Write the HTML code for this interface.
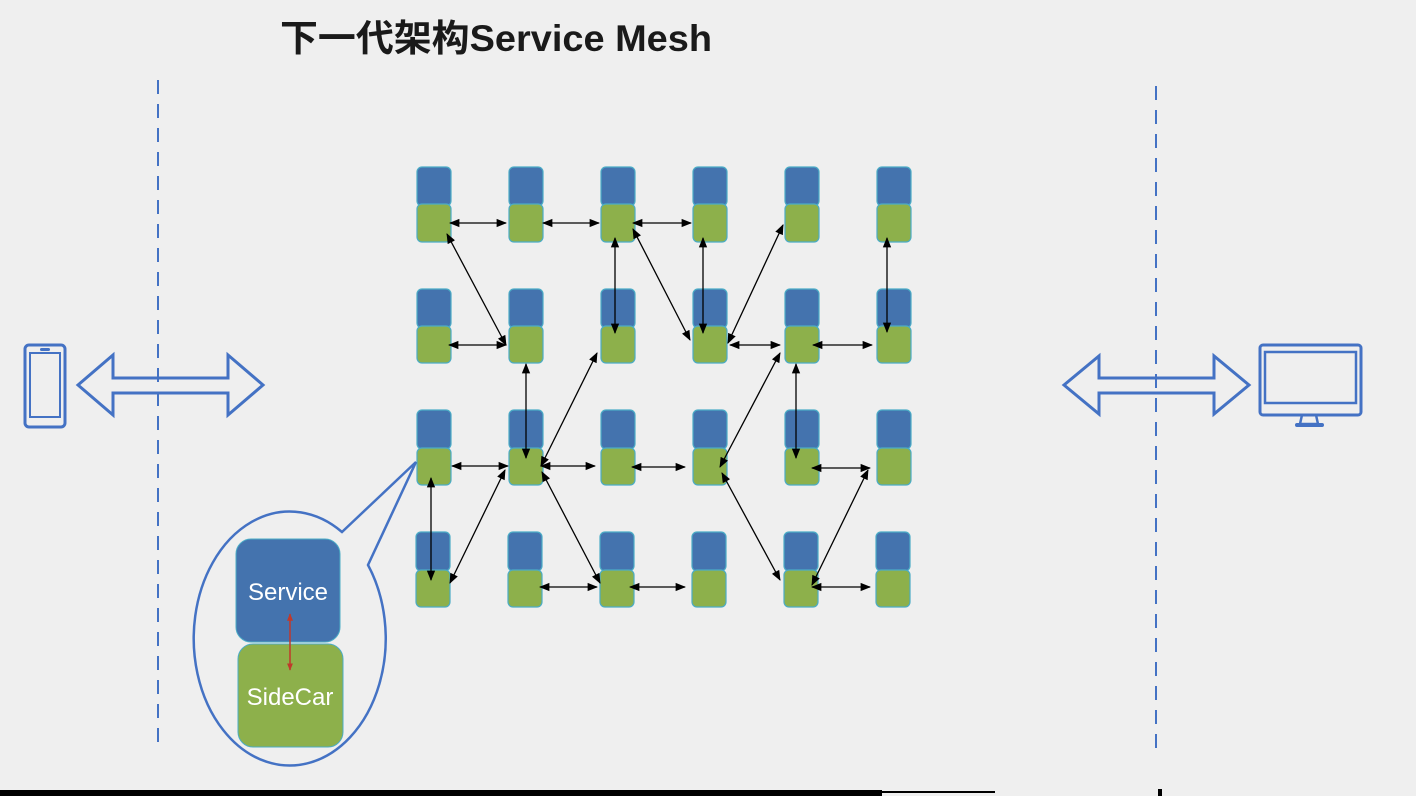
<!DOCTYPE html>
<html><head><meta charset="utf-8"><style>
html,body{margin:0;padding:0;background:#efefef;}
svg{display:block}
</style></head><body>
<svg width="1416" height="796" viewBox="0 0 1416 796" xmlns="http://www.w3.org/2000/svg">
<defs>
<marker id="a" viewBox="0 0 10 10" refX="9" refY="5" markerWidth="8" markerHeight="8" orient="auto-start-reverse"><path d="M0,1 L10,5 L0,9 z" fill="#000"/></marker>
<marker id="r" viewBox="0 0 10 10" refX="9" refY="5" markerWidth="5" markerHeight="5" orient="auto-start-reverse"><path d="M0,1 L10,5 L0,9 z" fill="#c0392b"/></marker>
</defs>
<rect width="1416" height="796" fill="#efefef"/>
<text x="280" y="51" font-family="'Liberation Sans','Noto Sans CJK SC',sans-serif" font-size="37" font-weight="bold" fill="#1a1a1a" textLength="432" lengthAdjust="spacingAndGlyphs">下一代架构Service Mesh</text>
<line x1="158" y1="80" x2="158" y2="750" stroke="#4472c4" stroke-width="2" stroke-dasharray="14,10"/>
<line x1="1156" y1="86" x2="1156" y2="750" stroke="#4472c4" stroke-width="2" stroke-dasharray="14,10"/>
<!-- phone -->
<rect x="25" y="345" width="40" height="82" rx="4" fill="none" stroke="#4472c4" stroke-width="3"/>
<rect x="30" y="353" width="30" height="64" fill="none" stroke="#4472c4" stroke-width="2"/>
<rect x="40" y="348" width="10" height="3" rx="1.5" fill="#4472c4"/>
<!-- arrows -->
<path d="M78,385 L113,355 L113,378 L228,378 L228,355 L263,385 L228,415 L228,393 L113,393 L113,415 Z" fill="none" stroke="#4472c4" stroke-width="3"/>
<path d="M1064,385 L1099,356 L1099,378 L1214,378 L1214,356 L1249,385 L1214,414 L1214,393 L1099,393 L1099,414 Z" fill="none" stroke="#4472c4" stroke-width="3"/>
<!-- monitor -->
<rect x="1260" y="345" width="101" height="70" rx="3" fill="none" stroke="#4472c4" stroke-width="3"/>
<rect x="1265" y="352" width="91" height="51" fill="none" stroke="#4472c4" stroke-width="2.5"/>
<path d="M1302,415 L1300,424 L1318,424 L1316,415" fill="none" stroke="#4472c4" stroke-width="2.5"/>
<rect x="1295" y="423" width="29" height="4" rx="2" fill="#4472c4"/>
<!-- nodes -->
<g stroke="#4bacc6" stroke-width="1.2">
<g id="col">
<rect x="417" y="167" width="34" height="39" rx="5" fill="#4473ae"/><rect x="417" y="204" width="34" height="38" rx="5" fill="#8db04b"/>
<rect x="417" y="289" width="34" height="39" rx="5" fill="#4473ae"/><rect x="417" y="326" width="34" height="37" rx="5" fill="#8db04b"/>
<rect x="417" y="410" width="34" height="39" rx="5" fill="#4473ae"/><rect x="417" y="448" width="34" height="37" rx="5" fill="#8db04b"/>
<rect x="416" y="532" width="34" height="39" rx="5" fill="#4473ae"/><rect x="416" y="570" width="34" height="37" rx="5" fill="#8db04b"/>
</g>
<use href="#col" x="92"/><use href="#col" x="184"/><use href="#col" x="276"/><use href="#col" x="368"/><use href="#col" x="460"/>
</g>
<!-- connectors -->
<g stroke="#000" stroke-width="1.3" marker-start="url(#a)" marker-end="url(#a)">
<line x1="450" y1="223" x2="506" y2="223"/><line x1="543" y1="223" x2="599" y2="223"/><line x1="633" y1="223" x2="691" y2="223"/>
<line x1="447" y1="234" x2="506" y2="345"/>
<line x1="615" y1="238" x2="615" y2="333"/>
<line x1="633" y1="229" x2="690" y2="340"/>
<line x1="703" y1="238" x2="703" y2="333"/>
<line x1="783" y1="225" x2="728" y2="343"/>
<line x1="887" y1="238" x2="887" y2="332"/>
<line x1="449" y1="345" x2="506" y2="345"/><line x1="730" y1="345" x2="780" y2="345"/><line x1="813" y1="345" x2="872" y2="345"/>
<line x1="526" y1="364" x2="526" y2="458"/>
<line x1="597" y1="353" x2="541" y2="466"/>
<line x1="780" y1="353" x2="720" y2="467"/>
<line x1="796" y1="364" x2="796" y2="458"/>
<line x1="452" y1="466" x2="508" y2="466"/><line x1="541" y1="466" x2="595" y2="466"/><line x1="632" y1="467" x2="685" y2="467"/><line x1="812" y1="468" x2="870" y2="468"/>
<line x1="431" y1="478" x2="431" y2="580"/>
<line x1="505" y1="470" x2="450" y2="583"/>
<line x1="542" y1="472" x2="600" y2="583"/>
<line x1="722" y1="473" x2="780" y2="580"/>
<line x1="868" y1="470" x2="812" y2="585"/>
<line x1="540" y1="587" x2="597" y2="587"/><line x1="630" y1="587" x2="685" y2="587"/><line x1="812" y1="587" x2="870" y2="587"/>
</g>
<!-- callout -->
<path d="M342,532 L416,462 L368,565 A96,127 0 1 1 342,532 Z" fill="#efefef" stroke="#4472c4" stroke-width="2.5" stroke-linejoin="miter"/>
<rect x="236" y="539" width="104" height="103" rx="15" fill="#4473ae" stroke="#4bacc6" stroke-width="1"/>
<rect x="238" y="644" width="105" height="103" rx="15" fill="#8db04b" stroke="#4bacc6" stroke-width="1"/>
<text x="288" y="600" text-anchor="middle" font-family="'Liberation Sans',sans-serif" font-size="24" fill="#fff">Service</text>
<text x="290" y="705" text-anchor="middle" font-family="'Liberation Sans',sans-serif" font-size="24" fill="#fff">SideCar</text>
<line x1="290" y1="614" x2="290" y2="670" stroke="#c0392b" stroke-width="1.5" marker-start="url(#r)" marker-end="url(#r)"/>
<!-- bottom bars -->
<rect x="0" y="790" width="882" height="6" fill="#000"/>
<rect x="882" y="791" width="113" height="2" fill="#000"/>
<rect x="1158" y="789" width="4" height="7" fill="#000"/>
</svg>
</body></html>
